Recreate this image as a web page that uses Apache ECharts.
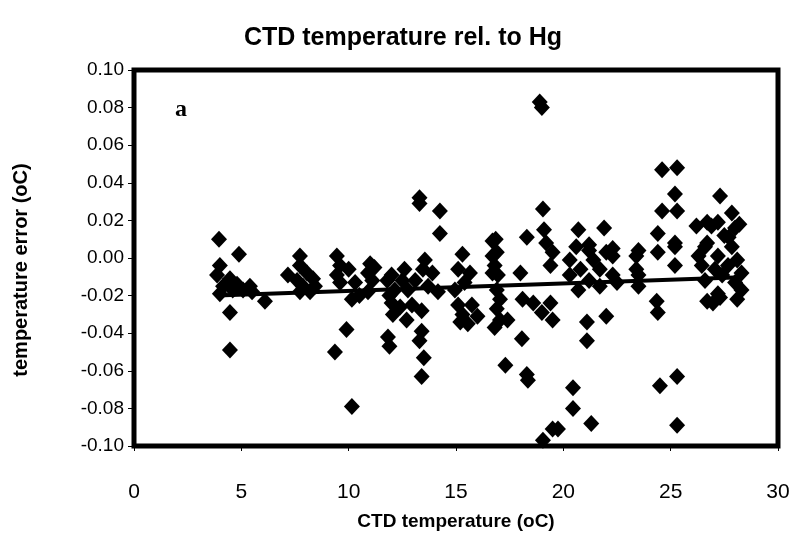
<!DOCTYPE html>
<html>
<head>
<meta charset="utf-8">
<script src="https://cdn.jsdelivr.net/npm/echarts@6/dist/echarts.min.js"></script>
<style>
  html, body { margin: 0; padding: 0; background: #fff; }
  #chart { width: 797px; height: 536px; }
</style>
</head>
<body>
<div id="chart"></div>
<script>
// CTD temperature (oC) of each comparison
const ctdTemp = [
  3.96, 4.89, 4.0, 3.87, 4.47, 4.15, 4.8, 5.4, 5.08, 4.0, 4.6, 5.5, 6.1, 4.47, 4.47,
  7.73, 7.17, 7.73, 8.06, 7.6, 8.34, 7.87, 8.43, 7.73, 8.2, 9.45, 9.6, 9.45, 9.6, 9.9, 9.36, 10.15,
  10.0, 10.3, 10.15, 11.0, 10.9, 11.1, 10.9, 10.5, 11.2,
  11.8, 11.9, 13.55, 13.46, 13.9, 12.6, 12.0, 12.5, 13.1, 12.15, 12.76, 13.7, 14.16, 12.0, 12.4,
  12.95, 13.4, 12.7, 12.06, 11.83, 11.9, 13.4, 13.3, 13.5, 13.4, 13.3, 13.3, 14.25, 14.25,
  15.3, 15.1, 15.65, 15.4, 14.95, 15.1, 15.74, 15.3, 16.0, 15.55, 15.2, 16.7, 16.7, 16.7,
  16.85, 16.9, 16.8, 16.95, 16.9, 17.05, 16.9, 17.05, 16.8, 17.4, 17.3,
  18.3, 19.1, 19.2, 19.5, 19.4, 18.0, 18.1, 18.6, 19.4, 19.0, 19.5, 18.07, 18.3, 18.35, 19.5, 19.05,
  18.9, 19.0, 19.05,
  20.7, 21.9, 20.6, 21.2, 22.0, 20.3, 21.4, 22.3, 20.8, 21.7, 20.3, 22.3, 21.2, 21.7, 20.7, 22.5,
  23.4, 23.4, 21.1, 22.0, 21.1, 20.45, 20.45, 19.75, 21.3, 21.2, 22.3, 23.5, 23.5, 23.5,
  24.6, 25.3, 25.2, 24.6, 25.3, 27.3, 27.85, 28.2, 26.2, 26.7, 27.2, 24.4, 25.2, 27.7, 26.7,
  25.2, 24.4, 25.2, 24.35, 24.4, 26.9, 28.0, 27.5, 26.6, 27.85, 26.3, 27.2, 28.1, 26.45, 27.06,
  27.67, 28.3, 26.6, 27.4, 28.0, 28.3, 28.1, 26.7, 27.2, 26.97, 27.3, 24.5, 25.3, 25.3
];

// CTD minus mercury thermometer temperature (oC)
const tempError = [
  0.010, 0.002, -0.004, -0.009, -0.011, -0.015, -0.014, -0.015, -0.017, -0.019, -0.017, -0.018, -0.023, -0.029, -0.049,
  0.001, -0.009, -0.004, -0.008, -0.012, -0.011, -0.015, -0.015, -0.018, -0.018, 0.001, -0.004, -0.009, -0.013, -0.038, -0.050, -0.079,
  -0.006, -0.013, -0.022, -0.003, -0.008, -0.012, -0.018, -0.020, -0.005,
  -0.012, -0.020, -0.001, -0.006, -0.008, -0.006, -0.009, -0.012, -0.012, -0.017, -0.017, -0.015, -0.018, -0.024, -0.026,
  -0.025, -0.028, -0.033, -0.030, -0.042, -0.047, -0.039, -0.044, -0.053, -0.063, 0.032, 0.029, 0.025, 0.013,
  0.002, -0.006, -0.008, -0.013, -0.017, -0.025, -0.025, -0.030, -0.031, -0.035, -0.034, 0.009, 0.001, -0.008,
  0.010, 0.003, -0.004, -0.009, -0.017, -0.022, -0.027, -0.033, -0.037, -0.033, -0.057,
  0.011, 0.015, 0.008, 0.003, -0.004, -0.008, -0.022, -0.024, -0.024, -0.029, -0.033, -0.043, -0.062, -0.065, -0.091, -0.097,
  0.083, 0.080, 0.026,
  0.015, 0.016, 0.006, 0.004, 0.003, -0.001, -0.001, 0.001, -0.006, -0.006, -0.009, -0.009, -0.012, -0.015, -0.017, -0.013,
  0.001, -0.006, -0.034, -0.031, -0.044, -0.069, -0.080, -0.091, -0.088, 0.007, 0.005, 0.004, -0.009, -0.015,
  0.047, 0.048, 0.034, 0.025, 0.025, 0.033, 0.024, 0.018, 0.017, 0.019, 0.019, 0.013, 0.008, 0.011, 0.008,
  0.006, 0.003, -0.004, -0.023, -0.029, 0.017, 0.016, 0.012, 0.006, 0.006, 0.001, 0.001, -0.001, -0.004, -0.006,
  -0.004, -0.008, -0.012, -0.009, -0.013, -0.017, -0.022, -0.023, -0.019, -0.024, -0.021, -0.068, -0.063, -0.089
];

// linear trend line end points
const trendX = [3.87, 28.3];
const trendY = [-0.0200, -0.0102];

// axis ranges
const xTicks = { min: 0, max: 30, step: 5 };
const yTicks = { min: -0.10, max: 0.10, step: 0.02 };

const points = ctdTemp.map((t, i) => [t, tempError[i]]);
const trend = trendX.map((t, i) => [t, trendY[i]]);

const chart = echarts.init(document.getElementById('chart'), null, { renderer: 'canvas' });
const sans = '"Liberation Sans", Arial, sans-serif';

chart.setOption({
  animation: false,
  backgroundColor: '#ffffff',
  title: {
    text: 'CTD temperature rel. to Hg',
    left: 398, top: 21, textAlign: 'center',
    textStyle: { fontFamily: sans, fontWeight: 'bold', fontSize: 25, color: '#000' }
  },
  graphic: [{
    type: 'text', left: 175, top: 98,
    style: { text: 'a', font: 'bold 24px "Liberation Serif", "Times New Roman", serif', fill: '#000' }
  }],
  grid: {
    left: 134, right: 19, top: 70, bottom: 84,
    show: true, borderColor: '#000', borderWidth: 5, backgroundColor: '#fff'
  },
  xAxis: {
    type: 'value', min: xTicks.min, max: xTicks.max, interval: xTicks.step,
    name: 'CTD temperature (oC)', nameLocation: 'middle', nameGap: 66,
    nameTextStyle: { fontFamily: sans, fontWeight: 'bold', fontSize: 19, color: '#000' },
    axisLine: { show: false, onZero: false },
    axisTick: { show: true, length: 5, lineStyle: { color: '#000', width: 1 } },
    axisLabel: { color: '#000', fontFamily: sans, fontSize: 21, margin: 36 },
    splitLine: { show: false }
  },
  yAxis: {
    type: 'value', min: yTicks.min, max: yTicks.max, interval: yTicks.step,
    name: 'temperature error (oC)', nameLocation: 'middle', nameGap: 103, nameRotate: 90,
    nameTextStyle: {
      fontFamily: sans, fontWeight: 'bold', fontSize: 20, color: '#000',
      padding: [0, 24, 0, 0]
    },
    axisLine: { show: false, onZero: false },
    axisTick: { show: true, length: 6, lineStyle: { color: '#000', width: 1 } },
    axisLabel: {
      color: '#000', fontFamily: sans, fontSize: 19, margin: 10,
      formatter: v => v.toFixed(2)
    },
    splitLine: { show: false }
  },
  series: [
    {
      type: 'scatter', data: points, symbol: 'diamond', symbolSize: [16, 17],
      itemStyle: { color: '#000', opacity: 1 }, z: 3
    },
    {
      type: 'line', data: trend, symbol: 'none',
      lineStyle: { color: '#000', width: 4 }, z: 4
    }
  ]
});
</script>
</body>
</html>
